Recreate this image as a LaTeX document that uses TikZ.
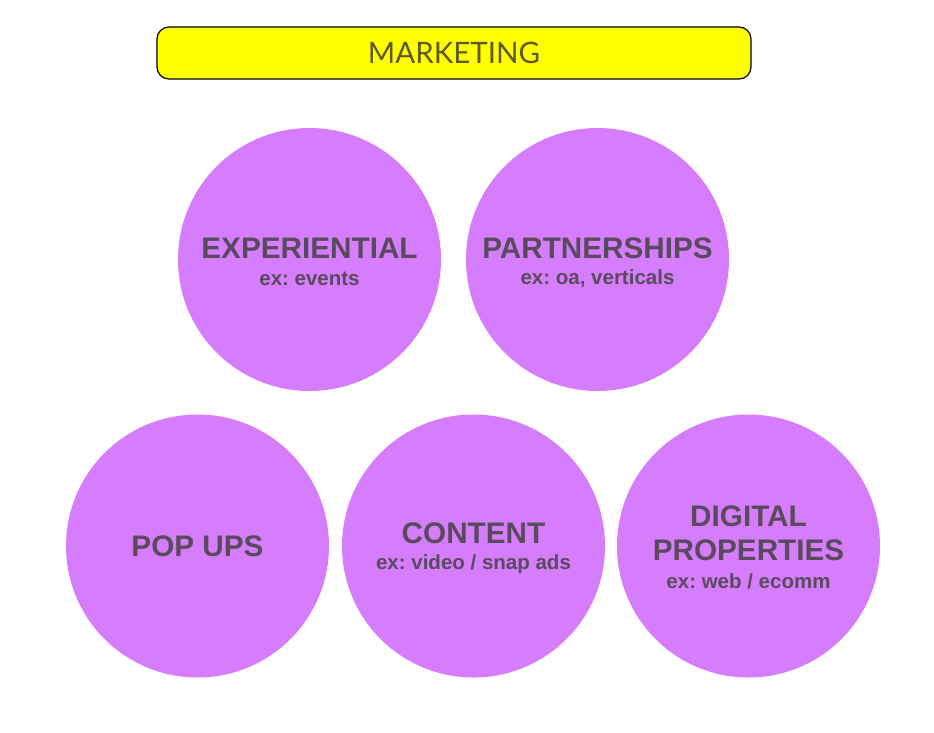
\documentclass[tikz,border=0pt]{standalone}
\usepackage{fontspec}
\setmainfont{Liberation Sans}
\newfontfamily\headfont{Lato}
\frenchspacing
\definecolor{circfill}{HTML}{D57DFD}
\definecolor{txtgrey}{HTML}{5A4A5E}
\definecolor{headtxt}{HTML}{5E5A1E}
\definecolor{yel}{HTML}{FFFF00}
\begin{document}
\begin{tikzpicture}[x=1pt,y=-1pt,
  circ/.style={circle,fill=circfill,minimum size=263pt,inner sep=0pt},
  big/.style={font=\fontsize{29.7}{34}\selectfont\bfseries,text=txtgrey},
  small/.style={font=\fontsize{20.5}{24}\selectfont\bfseries,text=txtgrey},
  header/.style={draw=black,line width=1.2pt,fill=yel,rounded corners=12pt,minimum width=594pt,minimum height=52pt,inner sep=0pt,font=\headfont\fontsize{29.5}{34}\selectfont,text=headtxt}]
\useasboundingbox (0,0) rectangle (934,732);
\fill[white] (0,0) rectangle (934,732);
\node[header] (mk) at (454,53) {MARKETING};
\node[circ] (exp) at (309.5,259.5) {};
\node[circ] (par) at (597.5,259.5) {};
\node[circ] (pop) at (197.5,546) {};
\node[circ] (con) at (473.5,546) {};
\node[circ] (dig) at (748.5,546) {};
\node[big] (expt) at (309.5,248) {EXPERIENTIAL};
\node[small] (exps) at (309.5,279) {ex: events};
\node[big] (part) at (597.5,248) {PARTNERSHIPS};
\node[small] (pars) at (597.5,279) {ex: oa, verticals};
\node[big] (popt) at (197.5,546) {POP UPS};
\node[big] (cont) at (473.5,533) {CONTENT};
\node[small] (cons) at (473.5,564) {ex: video / snap ads};
\node[big] (digt1) at (748.5,516) {DIGITAL};
\node[big] (digt2) at (748.5,550) {PROPERTIES};
\node[small] (digs) at (748.5,581) {ex: web / ecomm};
\end{tikzpicture}
\end{document}
